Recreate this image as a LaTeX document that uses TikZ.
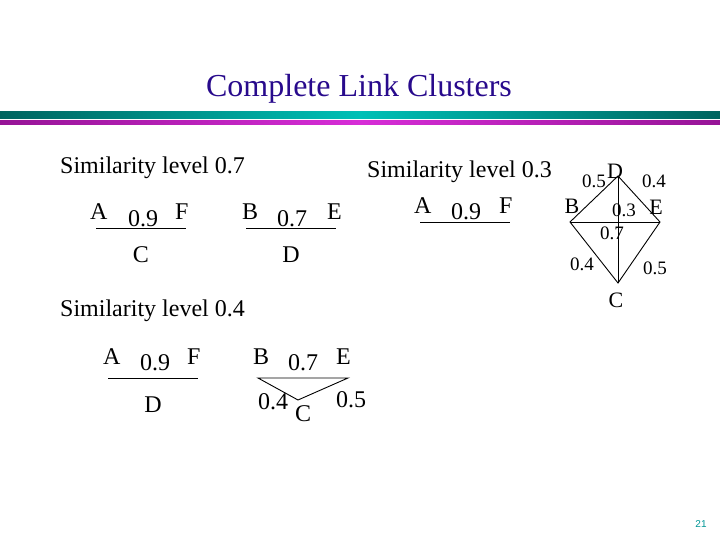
\documentclass[tikz,border=0pt]{standalone}
\usepackage{fontspec}
\setmainfont{Liberation Serif}
\setsansfont{Liberation Sans}
\usepackage{xcolor}
\usetikzlibrary{positioning,calc}
\definecolor{titlecol}{RGB}{40,10,140}
\definecolor{tealdark}{RGB}{0,100,95}
\definecolor{teallight}{RGB}{0,192,182}
\definecolor{magdark}{RGB}{150,20,150}
\definecolor{maglight}{RGB}{215,45,215}
\definecolor{pagecol}{RGB}{0,150,150}
\begin{document}
\begin{tikzpicture}[x=1pt, y=-1pt,
  lvl/.style={font=\fontsize{24}{28}\selectfont, anchor=base west, inner sep=0pt},
  glbl/.style={font=\fontsize{22}{26}\selectfont, inner sep=0pt},
  gwt/.style={font=\fontsize{19}{22}\selectfont, inner sep=0pt},
  link/.style={line width=0.9pt}]
\useasboundingbox (0,0) rectangle (720,540);
% title and bars
\node[titlecol, font=\fontsize{32}{36}\selectfont, anchor=base, inner sep=0pt] (title) at (359, 97) {Complete Link Clusters};
\shade[left color=tealdark, right color=tealdark, middle color=teallight] (0,112) rectangle (720,119);
\shade[left color=magdark, right color=magdark, middle color=maglight] (0,121) rectangle (720,125);
% level 0.7
\node[lvl] (head7) at (60, 174) {Similarity level 0.7};
\node[lvl] (a7) at (90, 220) {A};
\node[lvl] (w7a) at (128, 226) {0.9};
\node[lvl] (f7) at (175, 220) {F};
\coordinate (a7l) at (96, 228);
\coordinate (a7r) at (186, 228);
\draw[link] (a7l) -- (a7r);
\node[lvl, anchor=base] (c7) at (141, 262) {C};
\node[lvl] (b7) at (242, 220) {B};
\node[lvl] (w7b) at (277, 226) {0.7};
\node[lvl] (e7) at (327, 220) {E};
\coordinate (b7l) at (246, 228);
\coordinate (b7r) at (336, 228);
\draw[link] (b7l) -- (b7r);
\node[lvl, anchor=base] (d7) at (291, 262) {D};
% level 0.3
\node[lvl] (head3) at (367, 178) {Similarity level 0.3};
\node[lvl] (a3) at (414, 214) {A};
\node[lvl] (w3a) at (451, 220) {0.9};
\node[lvl] (f3) at (499, 214) {F};
\coordinate (a3l) at (420, 222);
\coordinate (a3r) at (510, 222);
\draw[link] (a3l) -- (a3r);
\coordinate (pb) at (570, 222);
\coordinate (pe) at (660, 222);
\coordinate (pd) at (618, 176);
\coordinate (pc) at (618, 283);
\draw[link] (pd) -- (pb) -- (pc) -- (pe) -- cycle;
\draw[link] (pb) -- (pe);
\draw[link] (pd) -- (pc);
\node[glbl] (d3) at (615, 171) {D};
\node[glbl] (b3) at (572, 206) {B};
\node[glbl] (e3) at (656, 207) {E};
\node[glbl] (c3) at (616, 300) {C};
\node[gwt] (wbd) at (594, 181) {0.5};
\node[gwt] (wde) at (654, 181) {0.4};
\node[gwt] (wdc) at (624, 210) {0.3};
\node[gwt] (wbe) at (612, 233) {0.7};
\node[gwt] (wbc) at (582, 264) {0.4};
\node[gwt] (wec) at (655, 268) {0.5};
% level 0.4
\node[lvl] (head4) at (60, 316) {Similarity level 0.4};
\node[lvl] (a4) at (103, 364) {A};
\node[lvl] (w4a) at (140, 370) {0.9};
\node[lvl] (f4) at (187, 364) {F};
\coordinate (a4l) at (108, 378);
\coordinate (a4r) at (198, 378);
\draw[link] (a4l) -- (a4r);
\node[lvl, anchor=base] (d4) at (153, 412) {D};
\node[lvl] (b4) at (253, 364) {B};
\node[lvl] (w4b) at (288, 370) {0.7};
\node[lvl] (e4) at (336, 364) {E};
\coordinate (b4l) at (258, 378);
\coordinate (b4r) at (348, 378);
\coordinate (c4p) at (298, 400);
\draw[link] (b4l) -- (b4r) -- (c4p) -- cycle;
\node[lvl, anchor=center] (wbc4) at (273, 402) {0.4};
\node[lvl, anchor=center] (c4) at (303, 414) {C};
\node[lvl, anchor=center] (wec4) at (351, 400) {0.5};
% page number
\node[pagecol, font=\sffamily\fontsize{10}{12}\selectfont, inner sep=0pt] (page) at (701, 524) {21};
\end{tikzpicture}
\end{document}
